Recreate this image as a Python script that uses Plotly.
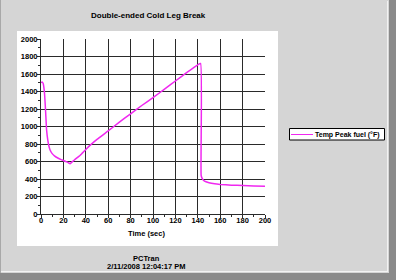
import plotly.graph_objects as go

# ---- data ----
time_s = [0, 1, 2, 3, 4, 5, 6, 7, 8, 10, 12, 15, 18, 20, 22, 24, 26, 28, 30, 35, 40,
          45, 50, 60, 70, 80, 90, 100, 110, 120, 130, 140, 142.5, 143, 144, 146, 150,
          155, 160, 170, 180, 190, 200]
temp_f = [1500, 1510, 1490, 1400, 1200, 960, 850, 780, 735, 690, 665, 640, 622, 612, 600,
          590, 575, 598, 620, 672, 738, 798, 852, 950, 1050, 1145, 1240, 1330, 1425, 1520,
          1615, 1705, 1720, 440, 405, 375, 358, 345, 338, 330, 326, 320, 316]
series_name = "Temp Peak fuel (°F)"
chart_title = "Double-ended Cold Leg Break"
x_title = "Time (sec)"
footer1 = "PCTran"
footer2 = "2/11/2008 12:04:17 PM"

FONT = "Liberation Sans, Arial, sans-serif"
LINE_COLOR = "#f028f0"

# plot area in pixels
L, R, T, B = 41, 265, 39, 214
W, H = 396, 280
pw, ph = R - L, B - T


def px(x):
    return (x - L) / pw


def py(y):
    return (B - y) / ph


fig = go.Figure()
fig.add_trace(go.Scatter(
    x=time_s, y=temp_f, mode="lines", name=series_name,
    line=dict(color=LINE_COLOR, width=1.5, shape="spline", smoothing=0.4), showlegend=False,
))

shapes = [
    # white chart panel
    dict(type="rect", xref="paper", yref="paper", x0=px(17), x1=px(278), y0=py(246), y1=py(31),
         fillcolor="white", line=dict(width=0), layer="below"),
    # window bevel: right and bottom dark
    dict(type="rect", xref="paper", yref="paper", x0=px(389), x1=px(397), y0=py(281), y1=py(0),
         fillcolor="#8a8a8a", line=dict(width=0), layer="below"),
    dict(type="rect", xref="paper", yref="paper", x0=px(0), x1=px(397), y0=py(281), y1=py(273),
         fillcolor="#8a8a8a", line=dict(width=0), layer="below"),
    # light inner edge
    dict(type="line", xref="paper", yref="paper", x0=px(387.5), x1=px(387.5), y0=py(272), y1=py(1),
         line=dict(color="#f2f2f2", width=1), layer="below"),
    dict(type="line", xref="paper", yref="paper", x0=px(1), x1=px(388), y0=py(271.5), y1=py(271.5),
         line=dict(color="#f2f2f2", width=1), layer="below"),
    dict(type="line", xref="paper", yref="paper", x0=px(0.5), x1=px(0.5), y0=py(273), y1=py(0),
         line=dict(color="#a8a8a8", width=1), layer="below"),
    # legend box
    dict(type="rect", xref="paper", yref="paper", x0=px(289.5), x1=px(384.5), y0=py(140), y1=py(128.5),
         fillcolor="white", line=dict(color="black", width=1), layer="above"),
    dict(type="line", xref="paper", yref="paper", x0=px(291), x1=px(313), y0=py(134.5), y1=py(134.5),
         line=dict(color=LINE_COLOR, width=1), layer="above"),
]

annotations = [
    dict(text="<b>" + chart_title + "</b>", x=px(148), y=py(16), xref="paper", yref="paper",
         showarrow=False, font=dict(family=FONT, size=8, color="black"), xanchor="center", yanchor="middle"),
    dict(text="<b>" + x_title + "</b>", x=px(146), y=py(233), xref="paper", yref="paper",
         showarrow=False, font=dict(family=FONT, size=7.5, color="black"), xanchor="center", yanchor="middle"),
    dict(text="<b>" + footer1 + "</b>", x=px(146), y=py(258), xref="paper", yref="paper",
         showarrow=False, font=dict(family=FONT, size=7.5, color="black"), xanchor="center", yanchor="middle"),
    dict(text="<b>" + footer2 + "</b>", x=px(146), y=py(266), xref="paper", yref="paper",
         showarrow=False, font=dict(family=FONT, size=7.5, color="black"), xanchor="center", yanchor="middle"),
    dict(text="<b>" + series_name + "</b>", x=px(382), y=py(134.5), xref="paper", yref="paper",
         showarrow=False, font=dict(family=FONT, size=7, color="black"), xanchor="right", yanchor="middle"),
]

axis_common = dict(
    showgrid=True, gridcolor="#2a2a2a", gridwidth=1,
    zeroline=False, showline=True, linecolor="#2a2a2a", linewidth=1,
    ticks="outside", ticklen=3, tickcolor="#2a2a2a",
    tickfont=dict(family=FONT, size=7.5, color="black", weight="bold"),
    mirror=False,
)

fig.update_layout(
    width=W, height=H,
    margin=dict(l=L, r=W - R, t=T, b=H - B, pad=0, autoexpand=False),
    paper_bgcolor="#d5d5d5",
    plot_bgcolor="white",
    showlegend=False,
    xaxis=dict(range=[0, 200], dtick=20, tick0=0, ticklabelstandoff=-4,
               minor=dict(dtick=10, ticks="outside", ticklen=2, tickcolor="#2a2a2a", showgrid=False),
               **axis_common),
    yaxis=dict(range=[0, 2000], dtick=200, tick0=0, ticklabelstandoff=-2,
               minor=dict(dtick=100, ticks="outside", ticklen=2, tickcolor="#2a2a2a", showgrid=False),
               **axis_common),
    shapes=shapes,
    annotations=annotations,
)

fig.write_html("out.html")
